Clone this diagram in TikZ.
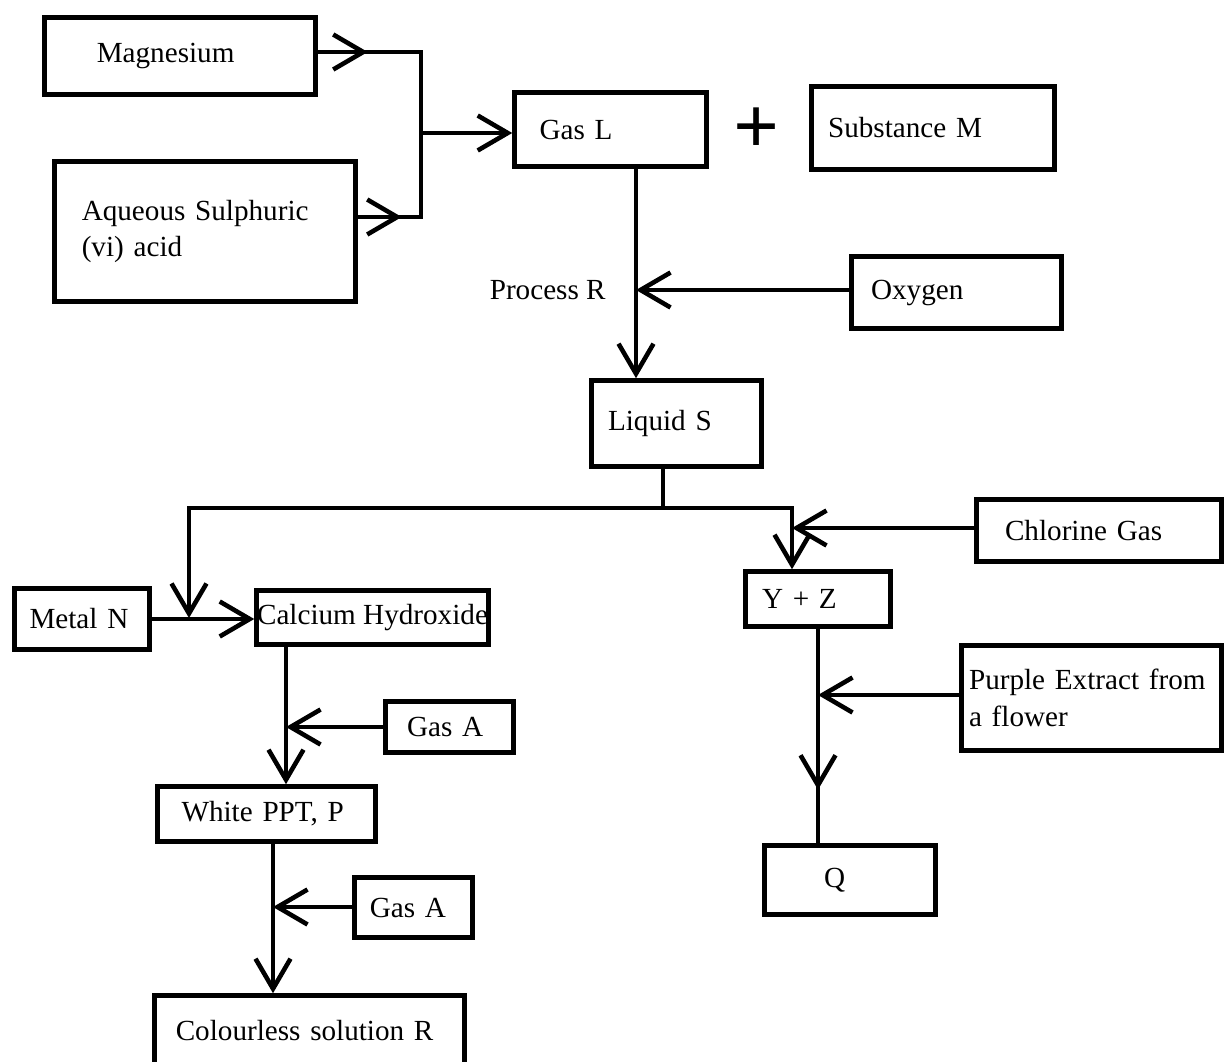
\documentclass[tikz,border=0pt]{standalone}
\usepackage{fontspec}
\setmainfont{Liberation Serif}
\usetikzlibrary{arrows.meta,decorations.markings,positioning}

\begin{document}
\begin{tikzpicture}[x=0.02cm, y=-0.02cm,
  font=\fontsize{16.6}{21}\selectfont,
  conn/.style={line width=2.6pt},
  flow/.style={conn, -{Straight Barb[length=0.6cm,width=0.7cm]}},
  midarrow/.style={conn, postaction={decorate}, decoration={markings,
    mark=at position #1 with {\arrow{Straight Barb[length=0.6cm,width=0.7cm]}}}},
  stage/.style={draw, line width=2.6pt, inner sep=0pt, align=left},
  lbl/.style={inner sep=0pt}]

\useasboundingbox (0,0) rectangle (1226,1061);

% The top row
\node[stage, minimum width=5.42cm, minimum height=1.54cm, text width=3.33cm] (mag) at (180,56) {Magnesium};
\node[stage, minimum width=6.02cm, minimum height=2.8cm, text width=4.93cm] (acid) at (205,231.5) {Aqueous Sulphuric\\(vi) acid};
\node[stage, minimum width=3.84cm, minimum height=1.48cm, text width=2.84cm] (gasl) at (610.5,129.5) {Gas L};
\node (plus) at (757,131) {\fontsize{46}{46}\selectfont\bfseries +};
\node[stage, minimum width=4.86cm, minimum height=1.66cm, text width=4.2cm] (subm) at (933,128) {Substance M};
\node[stage, minimum width=4.2cm, minimum height=1.44cm, text width=3.42cm] (oxy) at (956.5,292.5) {Oxygen};
\node[stage, minimum width=3.4cm, minimum height=1.72cm, text width=2.74cm] (liqs) at (676.5,423.5) {Liquid S};

% The two branches
\node[stage, minimum width=4.9cm, minimum height=1.24cm, text width=3.76cm] (chlor) at (1099,530.5) {Chlorine Gas};
\node[stage, minimum width=2.7cm, minimum height=1.22cm, text width=2.1cm] (metaln) at (82,619) {Metal N};
\node[stage, minimum width=4.64cm, minimum height=1.08cm] (caoh) at (372.5,617.5) {Calcium Hydroxide};
\node[stage, minimum width=2.9cm, minimum height=1.1cm, text width=2.24cm] (yz) at (818,599) {Y + Z};
\node[stage, minimum width=5.2cm, minimum height=2.1cm, text width=4.9cm] (purple) at (1091.5,698) {Purple Extract from\\a flower};
\node[stage, minimum width=2.56cm, minimum height=1.02cm, text width=1.7cm] (gasa1) at (449.5,727) {Gas A};
\node[stage, minimum width=4.36cm, minimum height=1.1cm, text width=3.4cm] (wppt) at (266.5,814) {White PPT, P};
\node[stage, minimum width=3.42cm, minimum height=1.38cm, text width=1.04cm] (q) at (850,880) {Q};
\node[stage, minimum width=2.36cm, minimum height=1.2cm, text width=1.75cm] (gasa2) at (413.5,907.5) {Gas A};
\node[stage, minimum width=6.2cm, minimum height=1.4cm, text width=5.35cm] (colr) at (309.5,1030.5) {Colourless solution R};

% Junctions
\coordinate (jtop) at (421,52);
\coordinate (jmid) at (421,133);
\coordinate (jbot) at (421,217);
\coordinate (pr) at (636,290);
\coordinate (split) at (663,508);
\coordinate (jn) at (189,618);
\coordinate (jcl) at (792,528);
\coordinate (ga1) at (286,727);
\coordinate (ga2) at (273,907);
\coordinate (pe) at (818,695);

% Magnesium and acid give Gas L
\draw[midarrow=1cm] (jtop -| mag.east) -- (jtop);
\draw[midarrow=0.88cm] (jbot -| acid.east) -- (jbot);
\draw[conn, line cap=rect] (jtop) -- (jbot);
\draw[flow] (jmid) -- (jmid -| gasl.west);

% Process R
\draw[flow] (pr |- gasl.south) -- (pr |- liqs.north);
\draw[flow] (pr -| oxy.west) -- (pr);
\node[lbl, left=0.6cm of pr] (procr) {Process R};

% Liquid S splits
\draw[conn] (split |- liqs.south) -- (split);
\draw[flow] (split) -| (jn);
\draw[flow] (split) -| (jcl |- yz.north);
\draw[flow] (jcl -| chlor.west) -- (jcl);

% Left branch
\draw[flow] (metaln.east) -- (metaln.east -| caoh.west);
\draw[flow] (ga1 |- caoh.south) -- (ga1 |- wppt.north);
\draw[flow] (ga1 -| gasa1.west) -- (ga1);
\draw[flow] (ga2 |- wppt.south) -- (ga2 |- colr.north);
\draw[flow] (ga2 -| gasa2.west) -- (ga2);

% Right branch
\draw[midarrow=3.22cm] (pe |- yz.south) -- (pe |- q.north);
\draw[flow] (pe -| purple.west) -- (pe);

\end{tikzpicture}
\end{document}
